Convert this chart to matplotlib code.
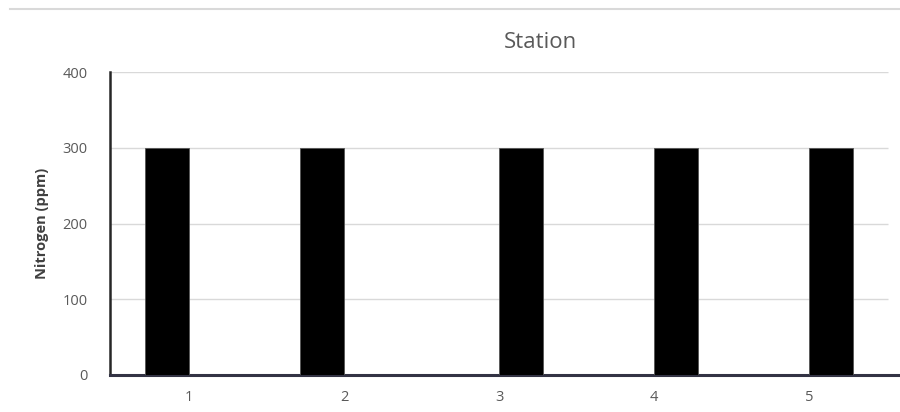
import matplotlib.pyplot as plt

stations = ["1", "2", "3", "4", "5"]
nitrogen = [300, 300, 300, 300, 300]
# bars hang off the tick to the left (-1) or right (+1)
sides = [-1, -1, 1, 1, 1]
y_ticks = [0, 100, 200, 300, 400]

plt.rcParams['font.family'] = ['Open Sans', 'DejaVu Sans']

fig = plt.figure(figsize=(9, 4.12), dpi=100)
ax = fig.add_axes([110 / 900, 37 / 412, 788 / 900, 303 / 412])

pos = list(range(1, len(stations) + 1))
bar_w = 0.285
ax.bar(pos, nitrogen, width=[s * bar_w for s in sides], align='edge',
       color='black', edgecolor='#555555', linewidth=0.6, zorder=3)

ax.set_xlim(0.49, 0.49 + 788 / 155)
ax.set_ylim(0, 400)
ax.set_xticks(pos, stations)
ax.set_yticks(y_ticks)
ax.hlines(y_ticks[1:], 0.49, 0.49 + 778 / 155, color='#d9d9d9', linewidth=1, zorder=1)

ax.tick_params(length=0, labelsize=10.5, labelcolor='#595959')
ax.tick_params(axis='x', pad=11)
ax.tick_params(axis='y', pad=16)

for side in ('top', 'right'):
    ax.spines[side].set_visible(False)
ax.spines['left'].set_color('#262626')
ax.spines['left'].set_linewidth(1.8)
ax.spines['bottom'].set_color('#333344')
ax.spines['bottom'].set_linewidth(2.2)

ax.set_ylabel('Nitrogen (ppm)', fontsize=10.5, fontweight='bold', color='#404040', labelpad=10)

fig.text(540 / 900, 1 - 42 / 412, 'Station', ha='center', va='center',
         fontsize=16, color='#595959')

# thin rule across the top of the figure
fig.add_artist(plt.Line2D([10 / 900, 1], [1 - 8.5 / 412] * 2, color='#d9d9d9',
                          linewidth=1.5, transform=fig.transFigure))

fig.savefig('out.png', dpi=100)
